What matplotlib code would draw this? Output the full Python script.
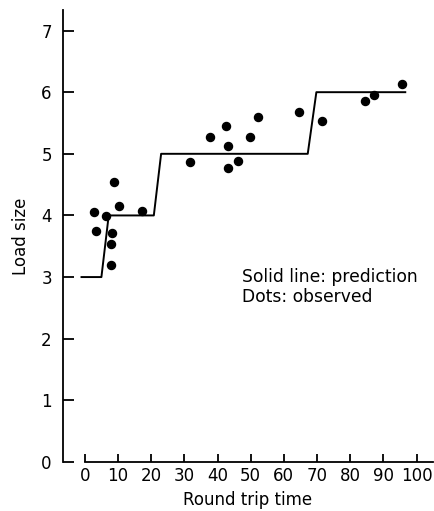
import matplotlib
matplotlib.use("Agg")
import matplotlib.pyplot as plt

plt.rcParams["font.family"] = ["DejaVu Sans"]

# Predicted load size: a step function over round trip time
pred_time = [-1, 5, 7.2, 20.8, 23, 67.2, 69.8, 96.6]
pred_load = [3, 3, 4, 4, 5, 5, 6, 6]

# Observed loads
obs_time = [2.7, 3.5, 6.5, 8.7, 8.1, 7.8, 7.8, 10.4, 17.1, 31.6, 37.7, 42.5,
            43.2, 43.2, 46.2, 49.7, 52.1, 64.5, 71.4, 84.6, 87.3, 95.6]
obs_load = [4.05, 3.75, 3.99, 4.54, 3.71, 3.53, 3.20, 4.15, 4.07, 4.86, 5.28, 5.45,
            5.12, 4.77, 4.88, 5.28, 5.60, 5.68, 5.54, 5.85, 5.95, 6.14]

x_ticks = list(range(0, 101, 10))
y_ticks = list(range(0, 8))

fig = plt.figure(figsize=(4.34, 5.11), dpi=100)
ax = fig.add_axes([0.145, 0.096, 0.853, 0.884])

ax.plot(pred_time, pred_load, color="black", linewidth=1.4)
ax.plot(obs_time, obs_load, "o", color="black", markersize=5.8)

ax.text(47.3, 3.0, "Solid line: prediction", fontsize=12.3, va="center")
ax.text(47.3, 2.67, "Dots: observed", fontsize=12.3, va="center")

ax.set_xlim(-6.6, 105)
ax.set_ylim(0, 7.33)
ax.set_xticks(x_ticks)
ax.set_yticks(y_ticks)

for side in ("top", "right"):
    ax.spines[side].set_visible(False)
ax.spines["bottom"].set_bounds(0, 105)
ax.spines["left"].set_linewidth(1.3)
ax.spines["bottom"].set_linewidth(1.3)

ax.tick_params(axis="x", direction="in", length=6, width=1.3, labelsize=12, pad=4)
ax.tick_params(axis="y", direction="in", length=8, width=1.3, labelsize=12, pad=8)

ax.set_xlabel("Round trip time", fontsize=12, labelpad=4)
ax.set_ylabel("Load size", fontsize=12, labelpad=8)

fig.savefig("out.png", dpi=100)
